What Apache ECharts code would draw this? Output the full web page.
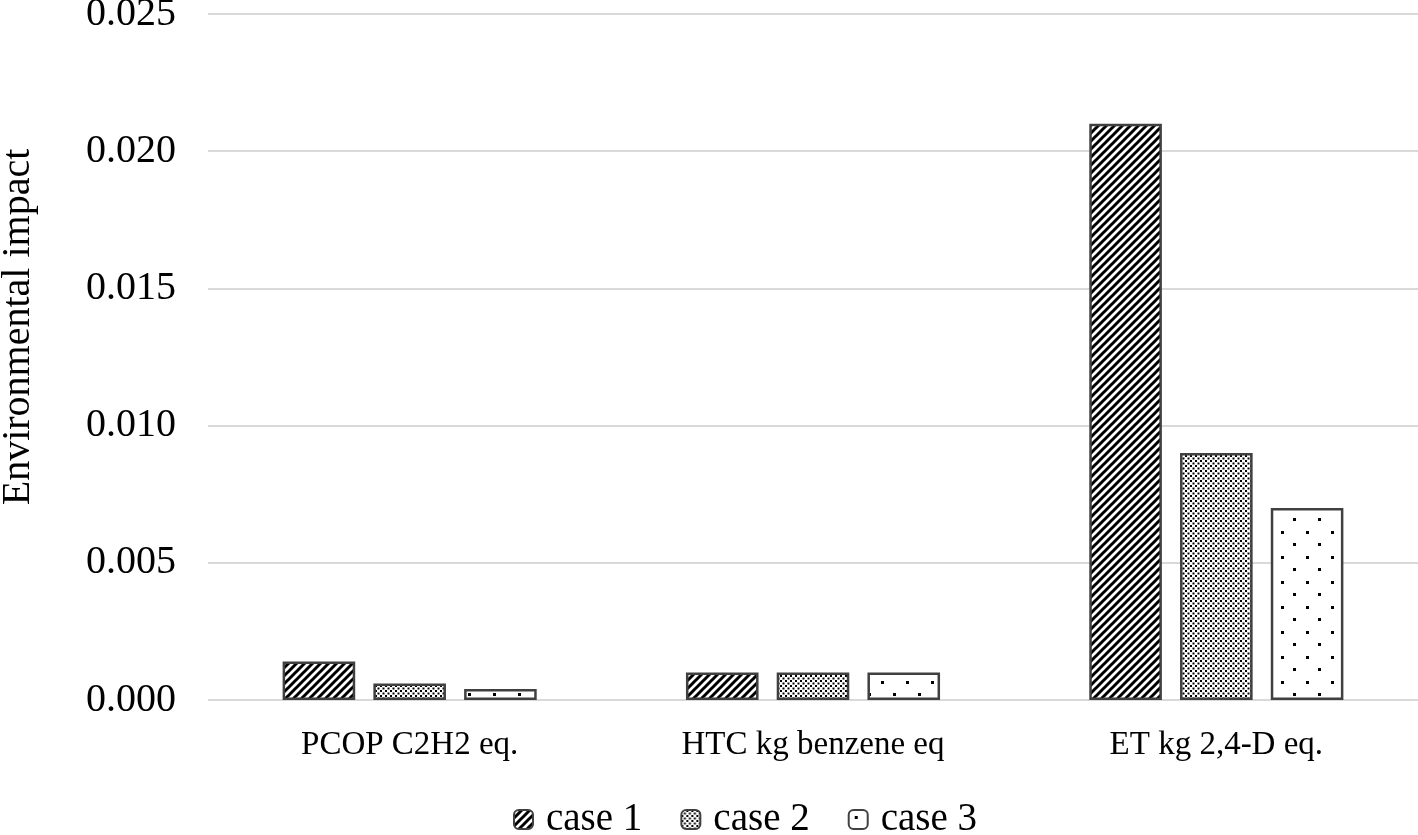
<!DOCTYPE html>
<html lang="en">
<head>
    <meta charset="UTF-8">
    <title>Environmental impact</title>
    <script type="text/javascript" src="https://cdn.jsdelivr.net/npm/echarts@6/dist/echarts.min.js"></script>
    <style>
        html, body { margin: 0; padding: 0; background: #fff; }
    </style>
</head>
<body>
    <div id="main" style="width: 1418px;height:835px;"></div>
    <script type="text/javascript">
        // data
        var categories = ['PCOP C2H2 eq.', 'HTC kg benzene eq', 'ET kg 2,4-D eq.'];
        var seriesNames = ['case 1', 'case 2', 'case 3'];
        var case1 = [0.0014, 0.0010, 0.0210];
        var case2 = [0.0006, 0.0010, 0.0090];
        var case3 = [0.0004, 0.0010, 0.0070];

        var FONT = '"Liberation Serif", "Times New Roman", serif';

        // hatch fills drawn on small canvases
        function makeTile(w, h, draw) {
            var c = document.createElement('canvas');
            c.width = w; c.height = h;
            var ctx = c.getContext('2d');
            ctx.fillStyle = '#fff';
            ctx.fillRect(0, 0, w, h);
            ctx.fillStyle = '#000';
            draw(ctx);
            return { image: c, repeat: 'repeat' };
        }
        var stripes = makeTile(8, 8, function (ctx) {
            ctx.strokeStyle = '#000';
            ctx.lineWidth = 3;
            ctx.beginPath();
            ctx.moveTo(-2, 10); ctx.lineTo(10, -2);
            ctx.moveTo(-6, 6); ctx.lineTo(6, -6);
            ctx.moveTo(2, 14); ctx.lineTo(14, 2);
            ctx.stroke();
        });
        var denseDots = makeTile(5, 5, function (ctx) {
            ctx.fillRect(0, 0, 2, 2);
            ctx.fillRect(2.5, 2.5, 2, 2);
        });
        var sparseDots = makeTile(25, 25, function (ctx) {
            ctx.fillRect(6, 6, 3, 3);
            ctx.fillRect(18, 18, 3, 3);
        });
        var fills = [stripes, denseDots, sparseDots];
        var values = [case1, case2, case3];

        var myChart = echarts.init(document.getElementById('main'));

        var series = seriesNames.map(function (name, i) {
            return {
                name: name,
                type: 'bar',
                data: values[i],
                barWidth: '18%',
                barGap: '25%',
                itemStyle: {
                    color: fills[i],
                    borderColor: '#404040',
                    borderWidth: 2.5
                }
            };
        });

        var option = {
            animation: false,
            backgroundColor: '#fff',
            grid: { left: 208, right: 0, top: 14, bottom: 135, outerBoundsMode: 'none', containLabel: false },
            legend: {
                data: seriesNames,
                bottom: -9,
                left: 508,
                itemWidth: 19,
                itemHeight: 19,
                itemGap: 38,
                textStyle: { fontFamily: FONT, fontSize: 39, color: '#000', padding: [0, 0, 0, 8] }
            },
            xAxis: {
                type: 'category',
                data: categories,
                axisLine: { show: false },
                axisTick: { show: false },
                axisLabel: { fontFamily: FONT, fontSize: 33, color: '#000', margin: 29 }
            },
            yAxis: {
                type: 'value',
                min: 0,
                max: 0.025,
                interval: 0.005,
                name: 'Environmental impact',
                nameLocation: 'middle',
                nameGap: 170,
                nameTextStyle: { fontFamily: FONT, fontSize: 40, color: '#000', padding: [0, 0, 0, 60] },
                axisLabel: {
                    fontFamily: FONT, fontSize: 40, color: '#000', margin: 32,
                    formatter: function (v) { return v.toFixed(3); }
                },
                splitLine: { lineStyle: { color: '#d9d9d9', width: 2 } }
            },
            series: series
        };

        myChart.setOption(option);
    </script>
</body>
</html>
